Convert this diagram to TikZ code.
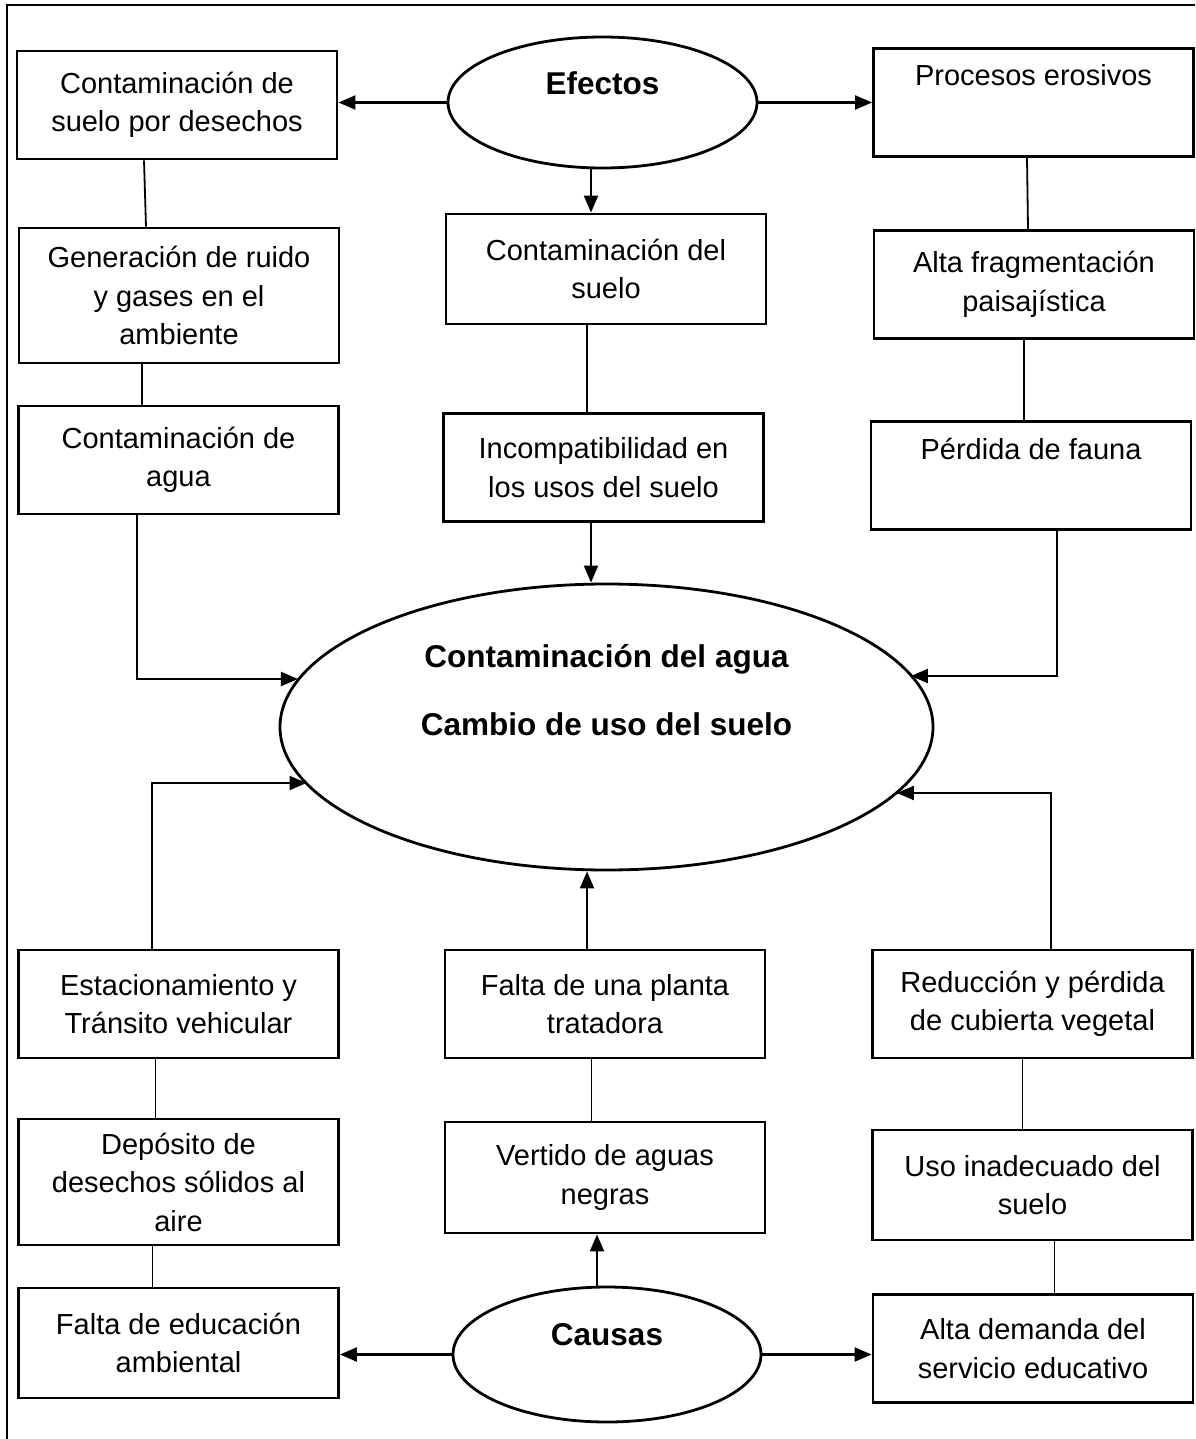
\documentclass[tikz,border=0pt]{standalone}
\usepackage{fontspec}
\setmainfont{Liberation Sans}
\usetikzlibrary{arrows.meta,shapes.geometric}
\begin{document}
\begin{tikzpicture}[x=1pt,y=-1pt,
  box/.style={draw, line width=2.9pt, minimum width=320pt, minimum height=108pt,
    inner sep=0pt, align=center, font=\fontsize{29}{38.5}\selectfont},
  oval/.style={draw, ellipse, line width=2.8pt, inner sep=0pt},
  btext/.style={font=\fontsize{31.5}{38}\selectfont\bfseries, inner sep=0pt, anchor=base},
  arr/.style={line width=2.2pt, -{Triangle[length=17pt,width=14pt]}},
  link/.style={line width=1.8pt},
  fine/.style={line width=1pt},
]
\useasboundingbox (0,0) rectangle (1195,1439);

% frame
\draw[line width=2pt] (1195,5) -- (7,5) -- (7,1439);

% effects: left column
\node[box] (b1) at (177,105) {Contaminación de\\suelo por desechos};
\node[box, minimum height=135pt] (b2) at (179,295.5) {Generación de ruido\\y gases en el\\ambiente};
\node[box] (b3) at (178.5,460) {Contaminación de\\agua};
% effects: middle column
\node[box, minimum height=110pt] (c1) at (606,269) {Contaminación del\\suelo};
\node[box] (c2) at (603.5,467.5) {Incompatibilidad en\\los usos del suelo};
% effects: right column
\node[box, text height=22pt, text depth=55pt] (r1) at (1033.5,102.5) {Procesos erosivos};
\node[box] (r2) at (1034,284.5) {Alta fragmentación\\paisajística};
\node[box, text height=22pt, text depth=55pt] (r3) at (1031,475.5) {Pérdida de fauna};

% causes
\node[box] (l1) at (178.5,1004) {Estacionamiento y\\Tránsito vehicular};
\node[box, minimum height=126pt] (l2) at (178.5,1182) {Depósito de\\desechos sólidos al\\aire};
\node[box, minimum height=110pt] (l3) at (178.5,1343) {Falta de educación\\ambiental};
\node[box] (m1) at (605,1004) {Falta de una planta\\tratadora};
\node[box, minimum height=111pt] (m2) at (605,1177.5) {Vertido de aguas\\negras};
\node[box] (r4) at (1032.5,1004) {Reducción y pérdida\\de cubierta vegetal};
\node[box, minimum height=110pt] (r5) at (1032.5,1185) {Uso inadecuado del\\suelo};
\node[box] (r6) at (1033,1348.5) {Alta demanda del\\servicio educativo};

% ellipses
\node[oval, minimum width=309pt, minimum height=131pt] (ef) at (602.5,102.5) {};
\node[btext] (eft) at (602.5,95) {Efectos};
\node[oval, minimum width=653pt, minimum height=286pt] (main) at (606.5,727) {};
\node[btext] (mt1) at (606.5,667) {Contaminación del agua};
\node[btext] (mt2) at (606.5,735) {Cambio de uso del suelo};
\node[oval, minimum width=308pt, minimum height=135pt] (ca) at (607,1354.5) {};
\node[btext] (cat) at (607,1345) {Causas};

% connectors from Efectos
\draw[arr] (ef.west) -- (ef.west -| b1.east);
\draw[arr] (ef.east) -- (ef.east -| r1.west);
\draw[arr] (591,0 |- ef.south) -- (591,0 |- c1.north);

% left effect chain
\draw[link] (144,0 |- b1.south) -- (146,0 |- b2.north);
\draw[link] (142,0 |- b2.south) -- (142,0 |- b3.north);
\coordinate (j1) at (137,679);
\draw[arr] (j1 |- b3.south) -- (j1) -- (j1 -| main.171);

% middle effect chain
\draw[link] (587,0 |- c1.south) -- (587,0 |- c2.north);
\draw[arr] (591,0 |- c2.south) -- (591,0 |- main.north);

% right effect chain
\draw[link] (1027,0 |- r1.south) -- (1028,0 |- r2.north);
\draw[link] (1024,0 |- r2.south) -- (1024,0 |- r3.north);
\coordinate (j2) at (1057,676);
\draw[arr] (j2 |- r3.south) -- (j2) -- (j2 -| main.10);

% causes into the central ellipse
\coordinate (j3) at (152,783);
\draw[arr] (j3 |- l1.north) -- (j3) -- (j3 -| main.191);
\coordinate (j4) at (1051,793);
\draw[arr] (j4 |- r4.north) -- (j4) -- (j4 -| main.347);
\draw[arr] (587,0 |- m1.north) -- (587,0 |- main.south);

% cause chains
\draw[fine] (155,0 |- l1.south) -- (155,0 |- l2.north);
\draw[fine] (152,0 |- l2.south) -- (152,0 |- l3.north);
\draw[fine] (591,0 |- m1.south) -- (591,0 |- m2.north);
\draw[fine] (1022,0 |- r4.south) -- (1022,0 |- r5.north);
\draw[fine] (1054,0 |- r5.south) -- (1054,0 |- r6.north);

% connectors from Causas
\draw[arr] (597,0 |- ca.north) -- (597,0 |- m2.south);
\draw[arr] (ca.west) -- (ca.west -| l3.east);
\draw[arr] (ca.east) -- (ca.east -| r6.west);
\end{tikzpicture}
\end{document}
